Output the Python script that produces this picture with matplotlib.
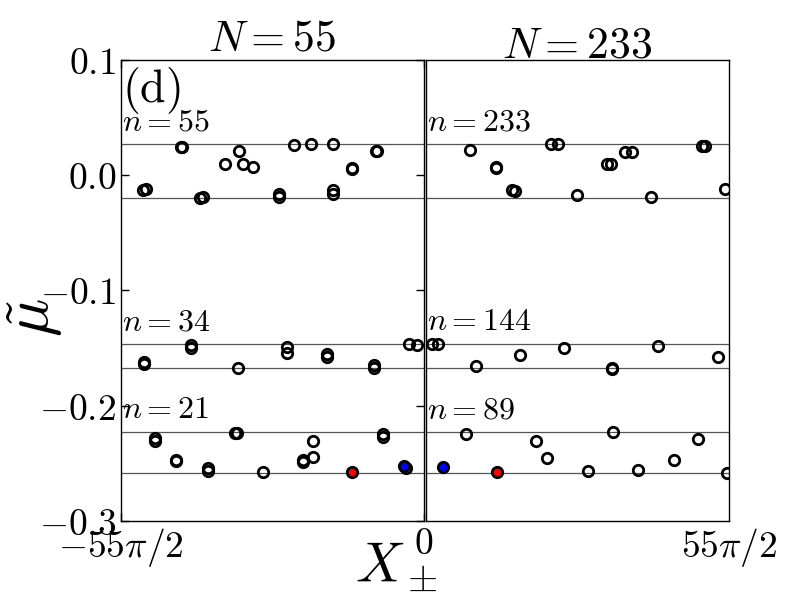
import numpy as np
import matplotlib
matplotlib.use("Agg")
import matplotlib.pyplot as plt

plt.rcParams['mathtext.fontset'] = 'cm'
plt.rcParams['font.family'] = 'serif'
plt.rcParams['font.serif'] = ['DejaVu Serif']

XMAX = 55 * np.pi / 2

# reference levels (horizontal lines), shared by both panels
levels = [0.027, -0.0197, -0.1464, -0.1672, -0.2228, -0.2583]

# left panel, N = 55
left_labels = ['$n=55$', '$n=34$', '$n=21$']
left_x = [-80.0, -79.1, -69.3, -69.0, -63.9, -62.9, -56.7, -52.7, -51.5, -48.7,
          -41.4, -41.4, -37.1, -32.2, -25.9, -26.0, -25.9, -20.6, -20.4, -13.7, -13.5,
          -79.8, -79.8, -66.5, -66.5, -52.9, -38.9, -38.9, -27.6, -27.6, -14.3, -14.3,
          -4.2, -2.1,
          -76.7, -76.7, -70.7, -70.6, -61.5, -61.5, -53.9, -53.4, -46.0, -34.6, -34.5,
          -31.7, -31.7, -11.8, -11.8, -5.1]
left_y = [-0.0128, -0.0122, 0.0248, 0.0244, -0.0197, -0.019, 0.0095, 0.021, 0.0095, 0.0074,
          -0.016, -0.0185, 0.0262, 0.027, 0.027, -0.0128, -0.016, 0.0063, 0.0058, 0.0213, 0.021,
          -0.1618, -0.1638, -0.1473, -0.150, -0.1675, -0.149, -0.154, -0.155, -0.1574, -0.1646, -0.1675,
          -0.1464, -0.1473,
          -0.2283, -0.2306, -0.248, -0.2472, -0.2543, -0.2566, -0.2233, -0.2239, -0.2572, -0.2467, -0.2487,
          -0.231, -0.2447, -0.2249, -0.2274, -0.2537]
left_red = (-20.6, -0.2577)
left_blue = (-5.7, -0.2523)

# right panel, N = 233
right_labels = ['$n=233$', '$n=144$', '$n=89$']
right_x = [12.6, 20.0, 19.9, 24.6, 25.4, 35.6, 37.7, 43.0, 51.5, 52.7, 56.7, 58.8, 64.2,
           78.6, 79.6, 85.3,
           1.6, 3.3, 14.2, 26.7, 39.2, 53.1, 53.1, 66.2, 83.3,
           11.3, 31.3, 34.4, 46.3, 53.4, 60.5, 70.8, 77.6, 85.7]
right_y = [0.0219, 0.0069, 0.0065, -0.0128, -0.0134, 0.027, 0.027, -0.0174, 0.0095, 0.0095,
           0.0205, 0.0205, -0.0191, 0.0257, 0.0257, -0.0122,
           -0.1464, -0.1464, -0.1655, -0.156, -0.150, -0.1678, -0.1672, -0.1482, -0.158,
           -0.2245, -0.2309, -0.245, -0.2566, -0.2225, -0.2555, -0.2471, -0.2290, -0.2586]
right_red = (20.3, -0.2577)
right_blue = (4.9, -0.2529)

fig = plt.figure(figsize=(8, 6), dpi=100)
ax1 = fig.add_axes([0.151, 0.1317, 0.379, 0.7683])
ax2 = fig.add_axes([0.5325, 0.1317, 0.379, 0.7683])

mk = dict(marker='o', ms=7.5, mew=2.0, ls='none', mec='black')

for ax, xs, ys, red, blue, labels, title in [
        (ax1, left_x, left_y, left_red, left_blue, left_labels, '$N=55$'),
        (ax2, right_x, right_y, right_red, right_blue, right_labels, '$N=233$')]:
    for lv in levels:
        ax.axhline(lv, color='#555555', lw=0.9, zorder=1)
    ax.plot(xs, ys, mfc='none', zorder=3, clip_on=True, **mk)
    ax.plot([red[0]], [red[1]], mfc='red', zorder=4, **mk)
    ax.plot([blue[0]], [blue[1]], mfc='blue', zorder=4, **mk)
    for i, lab in enumerate(labels):
        ax.text(0.003, levels[2 * i] + 0.006, lab, transform=ax.get_yaxis_transform(),
                fontsize=23, ha='left', va='bottom')
    ax.set_ylim(-0.3, 0.1)
    ax.set_title(title, fontsize=31.5, pad=2)
    for s in ax.spines.values():
        s.set_linewidth(1.0)

ax1.tick_params(direction='in', which='both', right=True, top=True, length=6, width=1)
ax2.tick_params(direction='in', which='both', left=False, right=False, top=False,
                bottom=False, length=6, width=1)

ax1.set_xlim(-XMAX, 0)
ax2.set_xlim(0, XMAX)
ax1.set_xticks([-XMAX, 0])
ax1.set_xticklabels([r'$-55\pi/2$', '$0$'], fontsize=27)
ax2.set_xticks([0, XMAX])
ax2.set_xticklabels(['', r'$55\pi/2$'], fontsize=27)

yt = [0.1, 0.0, -0.1, -0.2, -0.3]
ax1.set_yticks(yt)
ax1.set_yticklabels(['$0.1$', '$0.0$', '$-0.1$', '$-0.2$', '$-0.3$'], fontsize=27)
ax2.set_yticks(yt)
ax2.set_yticklabels([])

ax1.text(0.005, 0.99, r'$\mathrm{(d)}$', transform=ax1.transAxes, fontsize=33,
         ha='left', va='top')

fig.text(0.495, 0.03, r'$X_\pm$', fontsize=40, ha='center', va='baseline')
fig.text(0.005, 0.47, r'$\tilde{\mu}$', fontsize=46, rotation=90, ha='left', va='center')

fig.savefig('out.png', dpi=100)
